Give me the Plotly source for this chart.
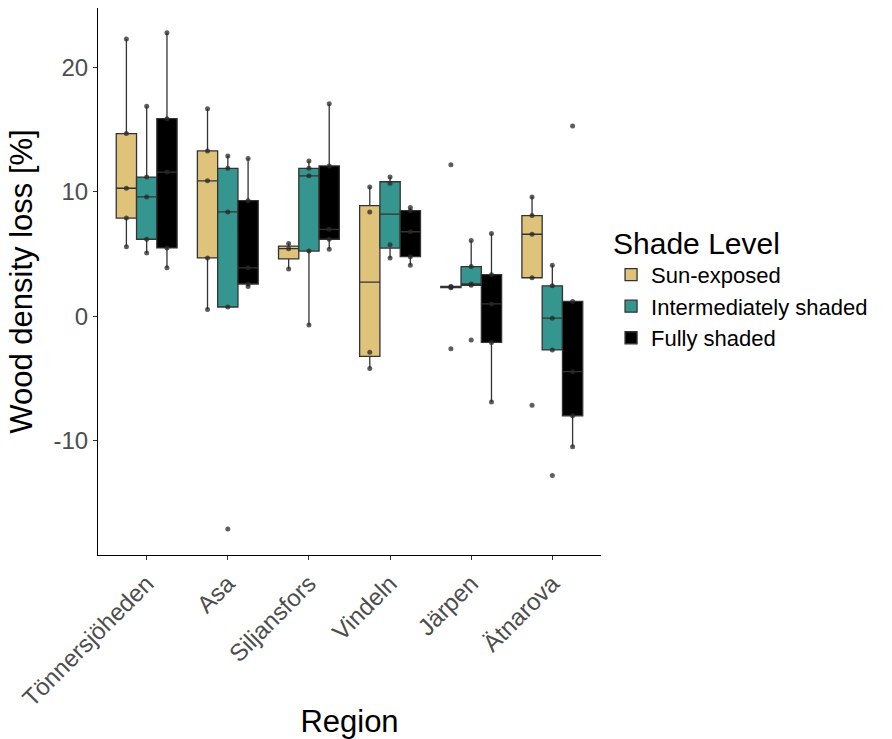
import numpy as np
import plotly.graph_objects as go

regions = ["Tönnersjöheden", "Asa", "Siljansfors", "Vindeln", "Järpen", "Ätnarova"]
shade_levels = ["Sun-exposed", "Intermediately shaded", "Fully shaded"]
colors = ["#E0C37A", "#35968F", "#000000"]
y_ticks = [-10, 0, 10, 20]
y_tick_labels = ["-10", "0", "10", "20"]

sun_exposed = [
    [5.6, 7.9, 10.3, 14.7, 22.3],
    [0.54, 4.7, 10.9, 13.3, 16.7],
    [3.8, 5.44, 5.86],
    [-4.2, -2.9, 8.4, 10.4],
    [-2.6, 2.3, 2.35, 2.4, 12.2],
    [-7.15, 3.1, 6.6, 8.1, 9.6],
]
intermediately_shaded = [
    [5.1, 6.2, 9.6, 11.2, 16.9],
    [-17.1, 0.75, 8.4, 11.9, 12.9],
    [-0.7, 5.25, 11.3, 11.9, 12.5],
    [4.7, 5.75, 10.7, 11.2],
    [-1.9, 2.5, 2.6, 4.0, 6.1],
    [-12.8, -2.7, -0.15, 2.45, 4.1],
]
fully_shaded = [
    [3.9, 5.5, 11.6, 15.9, 22.8],
    [2.4, 2.6, 3.9, 9.3, 12.7],
    [5.4, 6.2, 7.0, 12.1, 17.1],
    [4.1, 4.8, 6.8, 8.5, 8.75],
    [-6.9, -2.1, 1.0, 3.35, 6.67],
    [-10.5, -8.0, -4.45, 1.2, 15.3],
]
series = [sun_exposed, intermediately_shaded, fully_shaded]
offsets = [-0.25, 0.0, 0.25]

FONT = "Liberation Sans, Arial, sans-serif"
fig = go.Figure()

for name, col, data, off in zip(shade_levels, colors, series, offsets):
    xs, q1s, meds, q3s, lows, highs = [], [], [], [], [], []
    for i, vals in enumerate(data):
        v = np.array(vals)
        q1, med, q3 = np.percentile(v, [25, 50, 75])
        iqr = q3 - q1
        lo = v[v >= q1 - 1.5 * iqr].min()
        hi = v[v <= q3 + 1.5 * iqr].max()
        xs.append(i + 1 + off)
        q1s.append(q1); meds.append(med); q3s.append(q3)
        lows.append(min(lo, q1)); highs.append(max(hi, q3))
    fig.add_trace(go.Box(
        x=xs, q1=q1s, median=meds, q3=q3s, lowerfence=lows, upperfence=highs,
        name=name, fillcolor=col, line=dict(color="#333333", width=1.3),
        width=0.25, boxpoints=False, whiskerwidth=0, showlegend=True,
    ))

for data, off in zip(series, offsets):
    px, py = [], []
    for i, vals in enumerate(data):
        for val in vals:
            px.append(i + 1 + off)
            py.append(val)
    fig.add_trace(go.Scatter(
        x=px, y=py, mode="markers", showlegend=False, hoverinfo="skip",
        marker=dict(size=5, color="rgba(40,40,40,0.75)"),
    ))

fig.update_layout(
    width=892, height=739,
    margin=dict(l=98, r=291, t=8, b=184, autoexpand=False),
    plot_bgcolor="white", paper_bgcolor="white",
    font=dict(family=FONT, color="#4D4D4D"),
    legend=dict(
        x=1.02, y=0.622, xanchor="left", yanchor="top",
        title=dict(text="Shade Level", font=dict(size=30, color="black", family=FONT)),
        font=dict(size=22, color="black", family=FONT),
        tracegroupgap=0, itemwidth=30,
    ),
)
fig.update_xaxes(
    range=[0.4, 6.6], tickvals=list(range(1, 7)), ticktext=regions,
    tickangle=-45, tickfont=dict(size=24, color="#4D4D4D"),
    showline=True, linecolor="black", linewidth=1.1,
    ticks="outside", ticklen=4, tickcolor="#333333",
    showgrid=False, zeroline=False,
    title=dict(text="Region", font=dict(size=31, color="black"), standoff=8),
)
fig.update_yaxes(
    range=[-19.2, 24.8], tickvals=y_ticks, ticktext=y_tick_labels,
    tickfont=dict(size=24, color="#4D4D4D"),
    showline=True, linecolor="black", linewidth=1.1,
    ticks="outside", ticklen=4, tickcolor="#333333",
    showgrid=False, zeroline=False,
    title=dict(text="Wood density loss [%]", font=dict(size=31, color="black"), standoff=11),
)

fig.write_html("out.html")
